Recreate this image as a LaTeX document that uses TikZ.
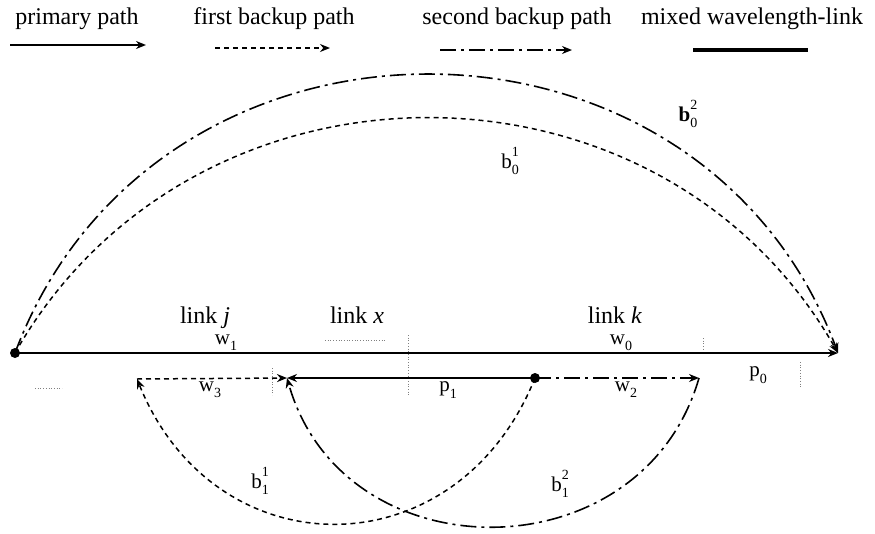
\documentclass[tikz,border=0pt]{standalone}
\usepackage{fontspec}
\setmainfont{Liberation Serif}
\usetikzlibrary{arrows.meta}
\newcommand{\scr}[1]{{\fontsize{14}{14}\selectfont #1}}
\newcommand{\sbsp}[3]{#1\makebox[0pt][l]{\raisebox{0.55em}{\scr{#3}}}\raisebox{-0.3em}{\scr{#2}}}
\newcommand{\sbonly}[2]{#1\raisebox{-0.3em}{\scr{#2}}}
\begin{document}
\begin{tikzpicture}[x=1pt,y=-1pt,
  >={Stealth[length=10pt,width=8pt]},
  lg/.style={font=\fontsize{24}{28}\selectfont, inner sep=0pt, anchor=base},
  lb/.style={font=\fontsize{21}{25}\selectfont, inner sep=0pt},
  prim/.style={line width=2.2pt},
  mixl/.style={line width=4pt},
  bkone/.style={line width=1.5pt, dash pattern=on 5pt off 4pt},
  bktwo/.style={line width=1.6pt, dash pattern=on 16pt off 5pt on 3pt off 5pt},
  faint/.style={gray, line width=0.7pt, dotted},
  dotnode/.style={circle, fill=black, inner sep=0pt, minimum size=#1}]
\useasboundingbox (0,0) rectangle (875,533);

% legend
\node[lg] (t1) at (77,24) {primary path};
\node[lg] (t2) at (274,24) {first backup path};
\node[lg] (t3) at (517,24) {second backup path};
\node[lg] (t4) at (752,24) {mixed wavelength-link};
\coordinate (l1a) at (10,45);  \coordinate (l1b) at (146,45);
\coordinate (l2a) at (215,48); \coordinate (l2b) at (330,48);
\coordinate (l3a) at (440,50); \coordinate (l3b) at (572,50);
\coordinate (l4a) at (693,50); \coordinate (l4b) at (808,50);
\draw[prim,->] (l1a) -- (l1b);
\draw[bkone,->] (l2a) -- (l2b);
\draw[bktwo,->] (l3a) -- (l3b);
\draw[mixl] (l4a) -- (l4b);

% main nodes
\node[dotnode=10pt] (S) at (15,353) {};
\coordinate (D) at (838,353);
\node[dotnode=10pt] (M) at (535,378) {};
\coordinate (A) at (137,379);
\coordinate (B) at (287,378);
\coordinate (C) at (699,378);

% faint marks
\draw[faint] (408,335) -- (408,395);
\draw[faint] (272,368) -- (272,395);
\draw[faint] (800,362) -- (800,388);
\draw[faint] (703,338) -- (703,350);
\draw[faint] (325,340) -- (385,340);
\draw[faint] (35,388) -- (62,388);

% big arcs
\draw[bktwo,->] (S.center) .. controls (154,-18) and (699,-18) .. (D);
\draw[bkone,->] (S.center) .. controls (193,40) and (660,40) .. (D);

% primary line
\draw[prim,->] (S.center) -- (D);

% lower paths
\draw[line width=1.6pt,->] (M.center) -- (B);
\draw[bkone,->] (A) -- (B);
\draw[bktwo,->] (M.center) -- (C);
\draw[bkone,->] (M.center) .. controls (457,572) and (215,572) .. (A);
\draw[bktwo,->] (C) .. controls (642,576) and (343,576) .. (B);

% labels
\node[lg] (lj) at (205,323) {link \textit{j}};
\node[lg] (lx) at (357,323) {link \textit{x}};
\node[lg] (lk) at (615,323) {link \textit{k}};
\node[lb] (w1) at (226,343) {\sbonly{w}{1}};
\node[lb] (w0) at (621,343) {\sbonly{w}{0}};
\node[lb] (w3) at (210,390) {\sbonly{w}{3}};
\node[lb] (p1) at (448,390) {\sbonly{p}{1}};
\node[lb] (w2) at (626,390) {\sbonly{w}{2}};
\node[lb] (p0) at (758,375) {\sbonly{p}{0}};
\node[lb] (b02) at (688,114) {\sbsp{\textbf{b}}{0}{2}};
\node[lb] (b01) at (510,161) {\sbsp{b}{0}{1}};
\node[lb] (b11) at (260,481) {\sbsp{b}{1}{1}};
\node[lb] (b12) at (560,484) {\sbsp{b}{1}{2}};
\end{tikzpicture}
\end{document}
